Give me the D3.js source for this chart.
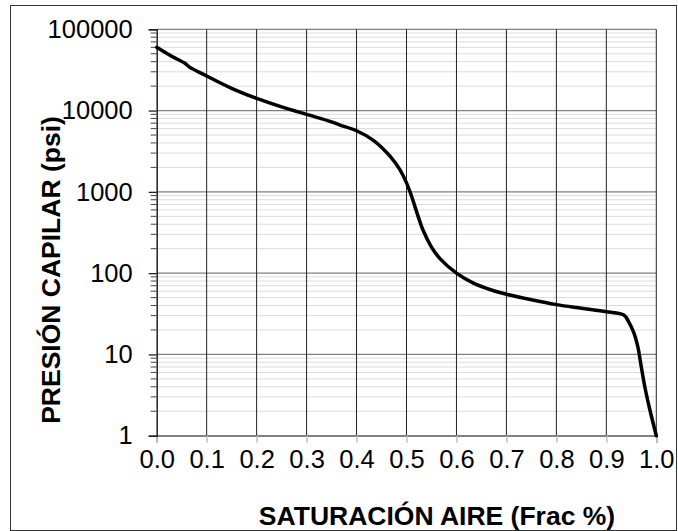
<!DOCTYPE html>
<html><head><meta charset="utf-8">
<script src="https://cdn.jsdelivr.net/npm/d3@7"></script>
<style>html,body{margin:0;padding:0;background:#fff;}svg{display:block;}</style>
</head><body>
<svg id="chart" width="678" height="531"></svg>
<script>
const saturation = [0, 0.03, 0.057, 0.065, 0.1, 0.15, 0.2, 0.25, 0.3, 0.35, 0.367, 0.4, 0.433, 0.467, 0.487, 0.5, 0.51, 0.52, 0.533, 0.55, 0.567, 0.6, 0.633, 0.67, 0.7, 0.75, 0.8, 0.85, 0.9, 0.935, 0.945, 0.955, 0.963, 0.97, 0.977, 0.987, 1.0];
const pressure = [60000, 46500, 38000, 34500, 26600, 18750, 14100, 11100, 8980, 7280, 6640, 5650, 4340, 2750, 1860, 1290, 890, 575, 339, 209, 151, 100, 76, 62, 55, 47, 41, 37, 33.5, 30.5, 25, 18.5, 12.5, 7, 4, 2.1, 1];
const xTicks = [0, 0.1, 0.2, 0.3, 0.4, 0.5, 0.6, 0.7, 0.8, 0.9, 1.0];
const yTicks = [1, 10, 100, 1000, 10000, 100000];
const xTitle = "SATURACIÓN AIRE (Frac %)";
const yTitle = "PRESIÓN CAPILAR (psi)";

const svg = d3.select("#chart");
const L = 156.7, R = 656.3, T = 29.3, B = 435.7;
const x = d3.scaleLinear().domain([0, 1]).range([L, R]);
const y = d3.scaleLog().domain([1, 100000]).range([B, T]);
const font = "Arial, 'Liberation Sans', Helvetica, sans-serif";

// outer border
svg.append("rect").attr("x", 10.5).attr("y", 5.5).attr("width", 666).attr("height", 525)
  .attr("fill", "none").attr("stroke", "#333").attr("stroke-width", 1);

// minor horizontal grid
const minor = [];
for (let d = 1; d < 100000; d *= 10) for (let k = 2; k <= 9; k++) minor.push(d * k);
svg.append("g").selectAll("line").data(minor).join("line")
  .attr("x1", L).attr("x2", R).attr("y1", d => y(d)).attr("y2", d => y(d))
  .attr("stroke", "#dcdcdc").attr("stroke-width", 1);
// major horizontal grid
svg.append("g").selectAll("line").data(yTicks).join("line")
  .attr("x1", L).attr("x2", R).attr("y1", d => y(d)).attr("y2", d => y(d))
  .attr("stroke", "#808080").attr("stroke-width", 1.2);
// vertical grid
svg.append("g").selectAll("line").data(xTicks.slice(1)).join("line")
  .attr("x1", d => x(d)).attr("x2", d => x(d)).attr("y1", T).attr("y2", B)
  .attr("stroke", "#222").attr("stroke-width", 1);

// x axis
const xAxis = svg.append("g").attr("transform", `translate(0,${B})`)
  .call(d3.axisBottom(x).tickValues(xTicks).tickFormat(d3.format(".1f")).tickSize(7).tickPadding(7));
xAxis.select(".domain").attr("stroke", "#808080").attr("stroke-width", 1.5);
xAxis.selectAll(".tick line").attr("stroke", "#c0c0c0").attr("stroke-width", 1.5);
xAxis.selectAll("text").attr("font-family", font).attr("font-size", 25.5).attr("fill", "#000");

// y axis
const yAxis = svg.append("g").attr("transform", `translate(${L},0)`)
  .call(d3.axisLeft(y).tickValues(yTicks).tickFormat(d3.format("d")).tickSize(8).tickPadding(16));
yAxis.select(".domain").attr("stroke", "#222").attr("stroke-width", 1.5);
yAxis.selectAll(".tick line").attr("stroke", "#222").attr("stroke-width", 1.3);
yAxis.selectAll("text").attr("font-family", font).attr("font-size", 25.5).attr("fill", "#000");
// minor y ticks
svg.append("g").selectAll("line").data(minor).join("line")
  .attr("x1", L - 6).attr("x2", L).attr("y1", d => y(d)).attr("y2", d => y(d))
  .attr("stroke", "#444").attr("stroke-width", 1);

// curve
const pts = saturation.map((s, i) => [s, pressure[i]]);
svg.append("path").datum(pts)
  .attr("d", d3.line().x(d => x(d[0])).y(d => y(d[1])).curve(d3.curveCatmullRom.alpha(0.5)))
  .attr("fill", "none").attr("stroke", "#000").attr("stroke-width", 3.5)
  .attr("stroke-linejoin", "round").attr("stroke-linecap", "round");

// titles
svg.append("text").attr("x", 437).attr("y", 525).attr("text-anchor", "middle")
  .attr("font-family", font).attr("font-weight", "bold").attr("font-size", 26.5).text(xTitle);
svg.append("text").attr("transform", "translate(59.5,270) rotate(-90)").attr("text-anchor", "middle")
  .attr("font-family", font).attr("font-weight", "bold").attr("font-size", 26.5).text(yTitle);
</script>
</body></html>
